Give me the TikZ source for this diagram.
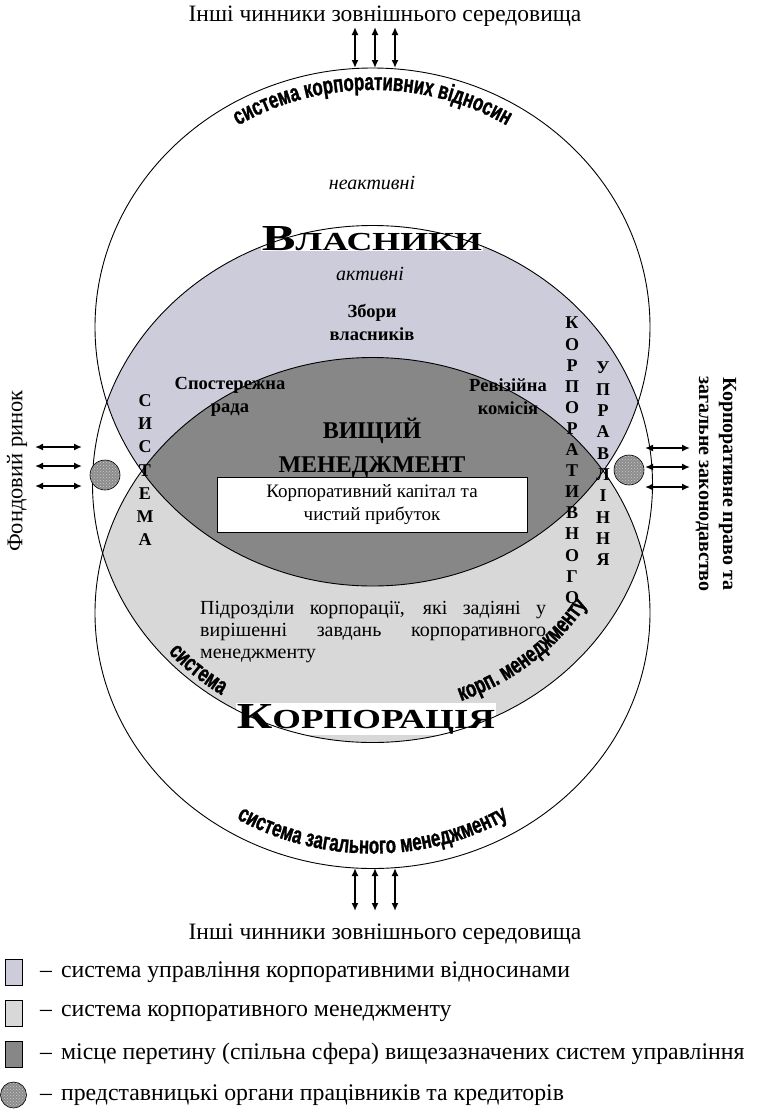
\documentclass[tikz,border=0pt]{standalone}
\usepackage{fontspec}
\usepackage{graphicx}
\setmainfont{Liberation Serif}
\newfontfamily\arcfont[FakeStretch=0.7,FakeBold=1.2]{Liberation Sans}
\usetikzlibrary{arrows.meta,decorations.text,patterns}
\definecolor{ownerfill}{RGB}{205,204,218}
\definecolor{corpfill}{RGB}{216,216,216}
\definecolor{topfill}{RGB}{135,135,135}
\definecolor{bodyfill}{RGB}{140,140,140}
\newcommand\arcstyle{\arcfont\bfseries\fontsize{24}{26}\selectfont}

\begin{document}
\begin{tikzpicture}[x=1pt,y=1pt,
	contour/.style={line width=0.9pt},
	twoway/.style={{Latex[length=8pt,width=7pt]}-{Latex[length=8pt,width=7pt]},line width=1.6pt},
	body/.style={circle,draw,line width=0.6pt,minimum size=30pt,inner sep=0pt,preaction={fill=bodyfill},pattern=crosshatch dots,pattern color=black!20},
	letters/.style={anchor=north,align=center,inner sep=0pt,font=\bfseries\fontsize{18}{#1}\selectfont},
	inlabel/.style={align=center,font=\bfseries\fontsize{18.5}{23}\selectfont},
	arctext/.style={decorate,decoration={text along path,text align=center}},
	swatch/.style={draw,line width=0.6pt,minimum width=17pt,minimum height=26pt,inner sep=0pt},
	keytext/.style={anchor=west,inner sep=0pt,font=\fontsize{23.8}{26}\selectfont}]
	\useasboundingbox (0,0) rectangle (757,-1112);
	% centres of the three big ovals
	\coordinate (uc) at (372.5,-327);
	\coordinate (mc) at (372.5,-484);
	\coordinate (lc) at (372.5,-613);
	% shaded areas
	\begin{scope}
		\clip (mc) ellipse [x radius=280pt, y radius=258.5pt];
		\fill[ownerfill] (uc) ellipse [x radius=277.5pt, y radius=259pt];
		\fill[corpfill] (lc) ellipse [x radius=277.5pt, y radius=255.5pt];
	\end{scope}
	\begin{scope}
		\clip (uc) ellipse [x radius=277.5pt, y radius=259pt];
		\fill[topfill] (lc) ellipse [x radius=277.5pt, y radius=255.5pt];
	\end{scope}
	% big words on white
	\node[fill=white,inner sep=1pt,anchor=base] (owners) at (372,-250)
		{\resizebox{220pt}{24pt}{\bfseries\fontsize{14.1}{14}\selectfont В\fontsize{10}{10}\selectfont ЛАСНИКИ}};
	\node[fill=white,inner sep=1pt,anchor=base] (corp) at (366,-728)
		{\resizebox{258pt}{24pt}{\bfseries\fontsize{13.3}{13}\selectfont К\fontsize{10}{10}\selectfont ОРПОРАЦІЯ}};
	% vertical words
	\node[letters=23.3] (sysword) at (145,-394) {С\\И\\С\\Т\\Е\\М\\А};
	\node[letters=21.1] (corpword) at (572,-317) {К\\О\\Р\\П\\О\\Р\\А\\Т\\И\\В\\Н\\О\\Г\\О};
	\node[letters=21.3] (mgmtword) at (603,-362) {У\\П\\Р\\А\\В\\Л\\І\\Н\\Н\\Я};
	% outlines
	\draw[contour] (uc) ellipse [x radius=277.5pt, y radius=259pt];
	\draw[contour] (mc) ellipse [x radius=280pt, y radius=258.5pt];
	\draw[contour] (lc) ellipse [x radius=277.5pt, y radius=255.5pt];
	% curved captions
	\path[arctext,decoration={text={|\arcstyle|система корпоративних відносин}}]
		(uc) ++(150:255pt and 237pt) arc [start angle=150, end angle=30, x radius=255pt, y radius=237pt];
	\path[arctext,decoration={text={|\arcstyle|система загального менеджменту}}]
		(lc) ++(210:262.5pt and 240.5pt) arc [start angle=210, end angle=330, x radius=262.5pt, y radius=240.5pt];
	\path[arctext,decoration={text={|\arcstyle|система}}]
		(mc) ++(212:274pt and 253pt) arc [start angle=212, end angle=246, x radius=274pt, y radius=253pt];
	\path[arctext,decoration={text={|\arcstyle|корп. менеджменту}}]
		(mc) ++(280:251pt and 232pt) arc [start angle=280, end angle=340, x radius=251pt, y radius=232pt];
	% inner labels
	\node[font=\itshape\fontsize{20}{22}\selectfont] (passive) at (372,-183) {неактивні};
	\node[font=\itshape\fontsize{20}{22}\selectfont] (active) at (370,-274) {активні};
	\node[inlabel] (meeting) at (372,-322) {Збори\\власників};
	\node[inlabel] (board) at (230,-397) {Спостережна\\рада};
	\node[inlabel] (audit) at (508,-397) {Ревізійна\\комісія};
	\node[align=center,font=\bfseries\fontsize{24}{34}\selectfont] (topmgmt) at (372,-448) {ВИЩИЙ\\МЕНЕДЖМЕНТ};
	\node[draw,fill=white,line width=0.8pt,minimum width=310pt,minimum height=55pt,align=center,
		font=\fontsize{19}{23}\selectfont] (capital) at (372,-505) {Корпоративний капітал та\\чистий прибуток};
	\node[anchor=north west,inner sep=0pt,align=left,font=\fontsize{20}{22}\selectfont] (units) at (200,-601)
		{\makebox[346pt][s]{Підрозділи корпорації, які задіяні у}\\\makebox[346pt][s]{вирішенні завдань корпоративного}\\менеджменту};
	% representative bodies
	\node[body] (bodyl) at (105,-475) {};
	\node[body] (bodyr) at (629,-470) {};
	% outside labels
	\node[font=\fontsize{23.5}{26}\selectfont] (envtop) at (385,-16) {Інші чинники зовнішнього середовища};
	\node[font=\fontsize{23.5}{26}\selectfont] (envbot) at (385,-934) {Інші чинники зовнішнього середовища};
	\node[rotate=90,font=\fontsize{22.5}{26}\selectfont] (market) at (17,-471) {Фондовий ринок};
	\node[rotate=-90,align=center,font=\bfseries\fontsize{20}{24}\selectfont] (law) at (716,-484)
		{Корпоративне право та\\загальне законодавство};
	% arrows
	\foreach \i/\xx in {1/355,2/375,3/395}{
		\coordinate (ta\i) at (\xx,-27);
		\coordinate (tb\i) at (\xx,-68);
		\draw[twoway] (ta\i) -- (tb\i);
		\coordinate (ba\i) at (\xx,-868);
		\coordinate (bb\i) at (\xx,-911);
		\draw[twoway] (ba\i) -- (bb\i);
	}
	\foreach \i/\yy in {1/447,2/466,3/486}{
		\coordinate (la\i) at (35,-\yy);
		\coordinate (lb\i) at (82,-\yy);
		\draw[twoway] (la\i) -- (lb\i);
		\coordinate (ra\i) at (645,-\yy-1);
		\coordinate (rb\i) at (690,-\yy-1);
		\draw[twoway] (ra\i) -- (rb\i);
	}
	% legend
	\foreach \i/\yy/\fc/\txt in {1/972/ownerfill/система управління корпоративними відносинами,
		2/1013/corpfill/система корпоративного менеджменту,
		3/1054/topfill/місце перетину (спільна сфера) вищезазначених систем управління}{
		\node[swatch,fill=\fc] (sw\i) at (13.5,-\yy) {};
		\node[keytext] (key\i) at (40,-\yy) {–\hspace{9pt}\txt};
	}
	\node[body,minimum size=26pt] (sw4) at (13.5,-1095) {};
	\node[keytext] (key4) at (40,-1095) {–\hspace{9pt}представницькі органи працівників та кредиторів};
\end{tikzpicture}
\end{document}
